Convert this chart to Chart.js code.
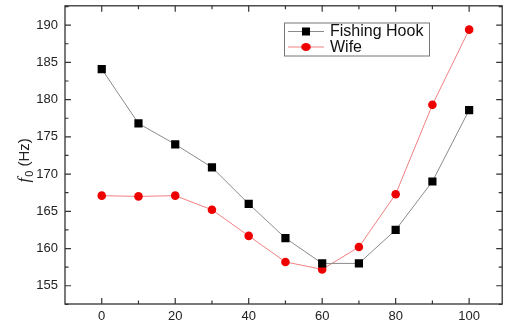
<!DOCTYPE html>
<html>
<head>
<meta charset="utf-8">
<script src="https://cdn.jsdelivr.net/npm/chart.js@4/dist/chart.umd.min.js"></script>
<style>
html,body{margin:0;padding:0;background:#fff;}
#wrap{position:relative;width:508px;height:329px;}
</style>
</head>
<body>
<div id="wrap"><canvas id="c" width="508" height="329"></canvas></div>
<script>
const xValues = [0, 10, 20, 30, 40, 50, 60, 70, 80, 90, 100];
const fishingHook = [184.1, 176.8, 174.0, 170.9, 166.0, 161.4, 158.0, 158.0, 162.5, 169.0, 178.6];
const wife = [167.1, 167.0, 167.1, 165.2, 161.7, 158.2, 157.2, 160.2, 167.3, 179.3, 189.4];
const xTickLabels = [0, 20, 40, 60, 80, 100];
const xMinorTicks = [10, 30, 50, 70, 90];
const yTickLabels = [155, 160, 165, 170, 175, 180, 185, 190];
const yMinorTicks = [152.5, 157.5, 162.5, 167.5, 172.5, 177.5, 182.5, 187.5, 192.5];
const seriesNames = ['Fishing Hook', 'Wife'];

const FONT = 'Liberation Sans, Arial, sans-serif';

const framePlugin = {
  id: 'frame',
  afterDatasetsDraw(chart) {
    const ctx = chart.ctx;
    const a = chart.chartArea;
    const xs = chart.scales.x, ys = chart.scales.y;
    ctx.save();
    ctx.strokeStyle = '#333';
    ctx.lineWidth = 1.3;
    ctx.strokeRect(a.left, a.top, a.right - a.left, a.bottom - a.top);
    ctx.lineWidth = 1.2;
    ctx.beginPath();
    const major = 6, minor = 3.5;
    xTickLabels.forEach(v => {
      const px = xs.getPixelForValue(v);
      ctx.moveTo(px, a.bottom); ctx.lineTo(px, a.bottom - major);
      ctx.moveTo(px, a.top); ctx.lineTo(px, a.top + major);
    });
    xMinorTicks.forEach(v => {
      const px = xs.getPixelForValue(v);
      ctx.moveTo(px, a.bottom); ctx.lineTo(px, a.bottom - minor);
      ctx.moveTo(px, a.top); ctx.lineTo(px, a.top + minor);
    });
    yTickLabels.forEach(v => {
      const py = ys.getPixelForValue(v);
      ctx.moveTo(a.left, py); ctx.lineTo(a.left + major, py);
      ctx.moveTo(a.right, py); ctx.lineTo(a.right - major, py);
    });
    yMinorTicks.forEach(v => {
      const py = ys.getPixelForValue(v);
      ctx.moveTo(a.left, py); ctx.lineTo(a.left + minor, py);
      ctx.moveTo(a.right, py); ctx.lineTo(a.right - minor, py);
    });
    ctx.stroke();

    // y axis title: f0 (Hz)
    ctx.translate(24, (a.top + a.bottom) / 2 + 6);
    ctx.rotate(-Math.PI / 2);
    ctx.fillStyle = '#222';
    ctx.textBaseline = 'alphabetic';
    ctx.font = 'italic 17px "Liberation Serif", serif';
    const w1 = ctx.measureText('f').width;
    ctx.font = '11px ' + FONT;
    const w2 = ctx.measureText('0').width;
    ctx.font = '15px ' + FONT;
    const w3 = ctx.measureText(' (Hz)').width;
    let x0 = -(w1 + w2 + w3) / 2;
    ctx.font = 'italic 17px "Liberation Serif", serif';
    ctx.fillText('f', x0, 5);
    x0 += w1 + 1;
    ctx.font = '11px ' + FONT;
    ctx.fillText('0', x0, 9);
    x0 += w2;
    ctx.font = '15px ' + FONT;
    ctx.fillText(' (Hz)', x0, 5);
    ctx.restore();

    // legend
    ctx.save();
    const lx = 284, ly = 22.5, lw = 145, lh = 33;
    ctx.fillStyle = '#fff';
    ctx.fillRect(lx, ly, lw, lh);
    ctx.strokeStyle = '#777';
    ctx.lineWidth = 1;
    ctx.strokeRect(lx + 0.5, ly + 0.5, lw, lh);
    ctx.font = '16px ' + FONT;
    ctx.textBaseline = 'middle';
    const rows = [
      {y: ly + 9, line: '#8a8a8a', fill: '#000', shape: 'rect', text: seriesNames[0]},
      {y: ly + 24.5, line: '#f08080', fill: '#ee0000', shape: 'circle', text: seriesNames[1]}
    ];
    rows.forEach(r => {
      ctx.strokeStyle = r.line;
      ctx.beginPath();
      ctx.moveTo(lx + 4, r.y); ctx.lineTo(lx + 40, r.y);
      ctx.stroke();
      ctx.fillStyle = r.fill;
      if (r.shape === 'rect') {
        ctx.fillRect(lx + 22 - 4, r.y - 4, 8, 8);
      } else {
        ctx.beginPath();
        ctx.ellipse(lx + 22, r.y, 4.8, 4, 0, 0, Math.PI * 2);
        ctx.fill();
      }
      ctx.fillStyle = '#111';
      ctx.fillText(r.text, lx + 46, r.y + 0.5);
    });
    ctx.restore();
  }
};

function noPad(s) {
  s.paddingTop = 0; s.paddingBottom = 0; s.paddingLeft = 0; s.paddingRight = 0;
}

new Chart(document.getElementById('c'), {
  type: 'line',
  data: {
    datasets: [
      {
        label: seriesNames[0],
        data: xValues.map((x, i) => ({x: x, y: fishingHook[i]})),
        borderColor: '#8a8a8a',
        borderWidth: 1,
        backgroundColor: '#000',
        pointStyle: 'rect',
        pointRadius: 5.8,
        pointBorderWidth: 0,
        pointBackgroundColor: '#000',
        tension: 0
      },
      {
        label: seriesNames[1],
        data: xValues.map((x, i) => ({x: x, y: wife[i]})),
        borderColor: '#f08080',
        borderWidth: 1,
        backgroundColor: '#ee0000',
        pointStyle: 'circle',
        pointRadius: 4.3,
        pointBorderWidth: 0,
        pointBackgroundColor: '#ee0000',
        tension: 0
      }
    ]
  },
  options: {
    responsive: false,
    animation: false,
    devicePixelRatio: 1,
    layout: {padding: {top: 5, right: 1, left: 0, bottom: 0}},
    plugins: {legend: {display: false}, tooltip: {enabled: false}},
    scales: {
      x: {
        type: 'linear',
        min: -10,
        max: 109,
        afterBuildTicks: s => { s.ticks = xTickLabels.map(v => ({value: v})); },
        afterFit: s => { s.height = 25; noPad(s); },
        grid: {display: false, drawTicks: false},
        border: {display: false},
        ticks: {color: '#222', font: {family: FONT, size: 13}, padding: 5, maxRotation: 0, autoSkip: false}
      },
      y: {
        type: 'linear',
        min: 152.55,
        max: 192.6,
        afterBuildTicks: s => { s.ticks = yTickLabels.map(v => ({value: v})); },
        afterFit: s => { s.width = 65; noPad(s); },
        grid: {display: false, drawTicks: false},
        border: {display: false},
        ticks: {color: '#222', font: {family: FONT, size: 13}, padding: 7, autoSkip: false}
      }
    }
  },
  plugins: [framePlugin]
});
</script>
</body>
</html>
